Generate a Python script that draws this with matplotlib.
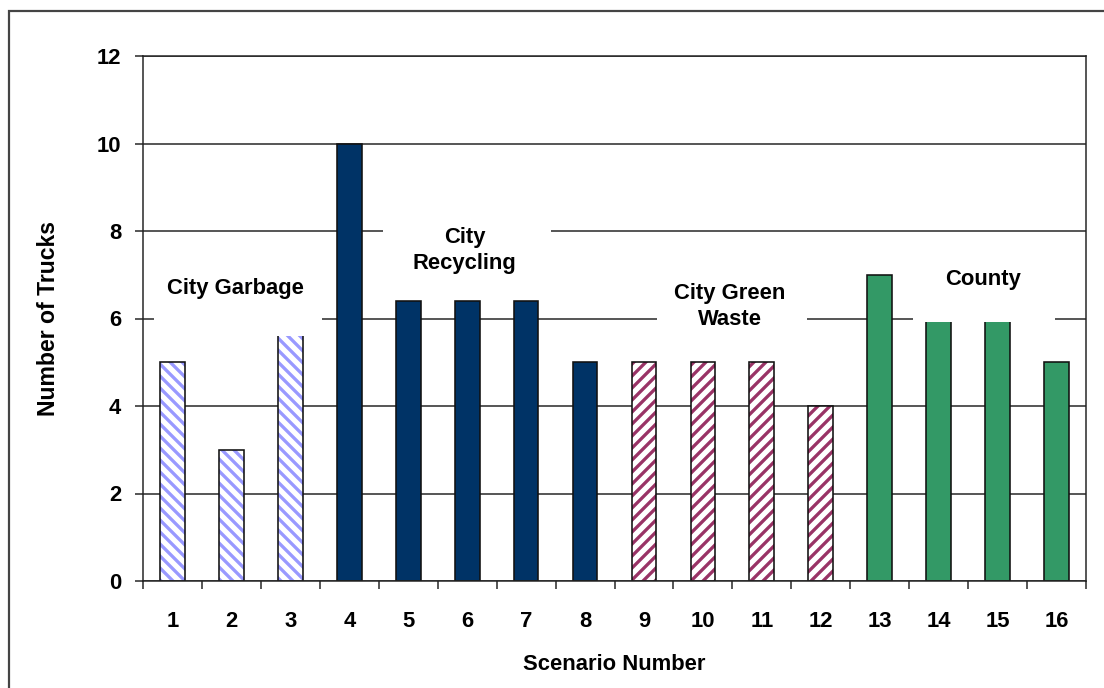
import numpy as np
import matplotlib
matplotlib.use("Agg")
import matplotlib.pyplot as plt
from matplotlib.patches import Rectangle

# truck counts per scenario
scenarios = list(range(1, 17))
trucks = [5, 3, 5.7, 10, 6.4, 6.4, 6.4, 5, 5, 5, 5, 4, 7, 6, 6, 5]
groups = ["garbage"] * 3 + ["recycling"] * 5 + ["green"] * 4 + ["county"] * 4

# group name, label x, label y, box (x0, x1, y0, y1) in data units
group_labels = [
    ("City Garbage", 2.07, 6.69, (0.69, 3.54, 5.6, 7.3)),
    ("City\nRecycling", 5.96, 7.56, (4.57, 7.42, 6.75, 8.4)),
    ("City Green\nWaste", 10.46, 6.27, (9.22, 11.77, 5.5, 7.05)),
    ("County", 14.75, 6.89, (13.56, 15.97, 5.93, 7.3)),
]

styles = {
    "garbage": dict(fill="white", hatch="\\\\", hcolor="#9999FF"),
    "recycling": dict(fill="#003366", hatch=None, hcolor=None),
    "green": dict(fill="white", hatch="//", hcolor="#993366"),
    "county": dict(fill="#339966", hatch=None, hcolor=None),
}

plt.rcParams["font.family"] = ["Liberation Sans", "DejaVu Sans"]
plt.rcParams["font.weight"] = "bold"
plt.rcParams["hatch.linewidth"] = 3.3

fig = plt.figure(figsize=(1104 / 72, 688 / 72), dpi=72)
ax = fig.add_axes([143 / 1104, 1 - 581 / 688, (1086 - 143) / 1104, (581 - 56) / 688])

x = np.array(scenarios)
w = 0.42
for xi, yi, g in zip(x, trucks, groups):
    s = styles[g]
    if s["hatch"]:
        ax.bar(xi, yi, w, color="white", edgecolor=s["hcolor"], hatch=s["hatch"],
               linewidth=0, zorder=2)
    else:
        ax.bar(xi, yi, w, color=s["fill"], linewidth=0, zorder=2)
    ax.bar(xi, yi, w, fill=False, edgecolor="#111111", linewidth=1.6, zorder=2.2)

# group captions on white boxes that break the gridlines
for txt, tx, ty, (x0, x1, y0, y1) in group_labels:
    ax.add_patch(Rectangle((x0, y0), x1 - x0, y1 - y0, facecolor="white",
                           edgecolor="none", zorder=3))
    ax.text(tx, ty, txt, ha="center", va="center", fontsize=22,
            fontweight="bold", linespacing=1.3, zorder=4)

ax.set_xlim(0.5, 16.5)
ax.set_ylim(0, 12)
ax.set_yticks(np.arange(0, 13, 2))
ax.set_xticks(x)
ax.set_xticks(np.arange(0.5, 17, 1), minor=True)
ax.yaxis.grid(True, color="#222222", linewidth=1.5, zorder=0)
ax.set_axisbelow(True)

ax.tick_params(axis="x", which="major", length=0, pad=30, labelsize=22)
ax.tick_params(axis="x", which="minor", length=8, width=1.5, color="#222222")
ax.tick_params(axis="y", length=8, width=1.5, color="#222222", pad=14, labelsize=22)
for lab in ax.get_xticklabels() + ax.get_yticklabels():
    lab.set_fontweight("bold")

for side, sp in ax.spines.items():
    sp.set_color("#222222")
    sp.set_linewidth(1.5)

ax.set_xlabel("Scenario Number", fontsize=22, fontweight="bold", labelpad=22)
ax.set_ylabel("Number of Trucks", fontsize=23, fontweight="bold", labelpad=36)

# outer chart border
fig.add_artist(Rectangle((9 / 1104, -0.1), 1.2, 0.1 + 1 - 11 / 688,
                         transform=fig.transFigure, fill=False,
                         edgecolor="#444444", linewidth=2.2))

fig.savefig("out.png", dpi=72)
